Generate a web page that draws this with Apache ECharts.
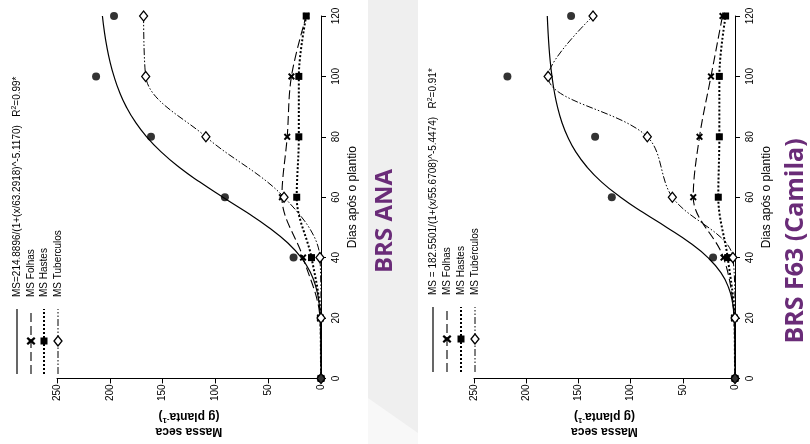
<!DOCTYPE html>
<html><head><meta charset="utf-8">
<script src="https://cdn.jsdelivr.net/npm/echarts@6/dist/echarts.min.js"></script>
<style>html,body{margin:0;padding:0;background:#fff}#c{width:810px;height:444px}</style>
</head><body><div id="c"></div>
<script>
// ---- data ----
const days = [0, 20, 40, 60, 80, 100, 120];
const msDays = [0, 40, 60, 80, 100, 120];
const fitDays = [0,5,10,15,20,25,30,35,40,45,50,55,60,65,70,75,80,85,90,95,100,105,110,115,120];
const massaTicks = [0, 50, 100, 150, 200, 250];
const diasTicks = [0, 20, 40, 60, 80, 100, 120];

// BRS ANA
const anaFit = [0,0,0.02,0.14,0.59,1.84,4.61,9.87,18.7,31.9,49.5,70.4,92.9,114.7,134.6,151.4,165.1,176.0,184.5,191.0,196.0,199.9,202.9,205.2,207.0];
const anaMS = [0, 26, 91, 161, 213, 196];
const anaFolhas = [0, 1, 17, 37, 32, 28, 14];
const anaHastes = [0, 0.5, 9, 23, 21, 21, 14];
const anaTub = [0, 0, 1, 35, 109, 166, 168];
const anaLegend = ['MS=214.8896/(1+(x/63.2918)^-5.1170)   R{s|2}=0.99*', 'MS Folhas', 'MS Hastes', 'MS Tuberculos'];

// BRS F63 (Camila)
const camFit = [0,0,0.02,0.14,0.69,2.30,6.08,13.5,25.9,43.6,65.3,88.3,109.6,127.7,141.8,152.5,160.3,166.0,170.1,173.1,175.3,177.0,178.2,179.1,179.8];
const camMS = [0, 21, 118, 134, 218, 157];
const camFolhas = [0, 1, 11, 40, 34, 23, 12];
const camHastes = [0, 0.5, 7, 16, 15, 15, 9];
const camTub = [0, 0, 2, 60, 84, 179, 136];
const camLegend = ['MS = 182.5501/(1+(x/55.6708)^-5.4474)   R{s|2}=0.91*', 'MS Folhas', 'MS Hastes', 'MS Tubérculos'];

const titles = ['BRS ANA', 'BRS F63 (Camila)'];
const xName = 'Massa seca\n(g planta{s|-1})';
const yName = 'Dias após o plantio';

// ---- styles ----
const FONT = 'Liberation Sans, Arial, sans-serif';
const XPATH = 'path://M0,2L2,0L5,3L8,0L10,2L7,5L10,8L8,10L5,7L2,10L0,8L3,5Z';
const dashFol = [9, 4];
const dashHas = [2, 2];
const dashTub = [7, 2, 1.5, 2, 1.5, 2];
const SMOOTH = 0.35;

function pairs(vals, ds) { return ds.map((d, k) => [vals[k], d]); }

function panelSeries(i, fit, ms, fol, has, tub) {
  return [
    {type:'line', xAxisIndex:i, yAxisIndex:i, data:pairs(fit, fitDays), symbol:'none', smooth:true,
     lineStyle:{color:'#000', width:1.2}, z:2},
    {type:'line', xAxisIndex:i, yAxisIndex:i, data:pairs(fol, days), smooth:SMOOTH, symbol:XPATH, symbolSize:7,
     itemStyle:{color:'#000'}, lineStyle:{color:'#000', width:1.1, type:dashFol}, z:3},
    {type:'line', xAxisIndex:i, yAxisIndex:i, data:pairs(has, days), smooth:SMOOTH, symbol:'rect', symbolSize:7,
     itemStyle:{color:'#000'}, lineStyle:{color:'#000', width:2, type:dashHas}, z:3},
    {type:'line', xAxisIndex:i, yAxisIndex:i, data:pairs(tub, days), smooth:SMOOTH, symbol:'diamond', symbolSize:[8,10],
     itemStyle:{color:'#fff', borderColor:'#000', borderWidth:1.3}, lineStyle:{color:'#000', width:1, type:dashTub}, z:4},
    {type:'scatter', xAxisIndex:i, yAxisIndex:i, data:pairs(ms, msDays), symbol:'circle', symbolSize:8,
     itemStyle:{color:'#000'}, z:5}
  ];
}

function xAxisCfg(i) {
  return {type:'value', gridIndex:i, min:0, max:250, interval:50, inverse:true, position:'bottom',
    axisLine:{show:true, onZero:false, lineStyle:{color:'#000', width:1}},
    axisTick:{show:true, inside:false, length:5, lineStyle:{color:'#000'}},
    axisLabel:{rotate:90, margin:6, fontSize:10, color:'#000', fontFamily:FONT},
    splitLine:{show:false},
    name:xName, nameLocation:'middle', nameRotate:180, nameGap:27,
    nameTextStyle:{fontSize:12, color:'#000', fontFamily:FONT, fontWeight:'bold', lineHeight:15,
      rich:{s:{fontSize:8, verticalAlign:'top', fontFamily:FONT, fontWeight:'bold', color:'#000', padding:[0,0,6,0]}}}
  };
}
function yAxisCfg(i) {
  return {type:'value', gridIndex:i, min:0, max:120, interval:20, position:'right',
    axisLine:{show:true, onZero:false, lineStyle:{color:'#000', width:1}},
    axisTick:{show:true, inside:false, length:5, lineStyle:{color:'#000'}},
    axisLabel:{rotate:90, margin:10, fontSize:10, color:'#000', fontFamily:FONT},
    splitLine:{show:false},
    name:yName, nameLocation:'middle', nameGap:26,
    nameTextStyle:{fontSize:12, color:'#000', fontFamily:FONT}
  };
}

function legendGraphics(labels, xs, y0) {
  const out = [];
  const lineStyles = [
    {lineWidth:1.2, lineDash:null},
    {lineWidth:1.1, lineDash:dashFol},
    {lineWidth:2, lineDash:dashHas},
    {lineWidth:1, lineDash:dashTub}
  ];
  labels.forEach((lab, k) => {
    const ch = [
      {type:'line', shape:{x1:0, y1:0, x2:65, y2:0},
       style:{stroke:'#000', lineWidth:lineStyles[k].lineWidth, lineDash:lineStyles[k].lineDash}},
      {type:'text', x:77, y:0, style:{text:lab, fill:'#000', font:'10px ' + FONT, textAlign:'left', textVerticalAlign:'middle',
        rich:{s:{fontSize:7, fontFamily:FONT, fill:'#000', padding:[0,0,5,0]}}}}
    ];
    if (k === 1) ch.push({type:'polygon', shape:{points:[[29,-3],[30.5,-4.5],[33,-2],[35.5,-4.5],[37,-3],[34.5,-0],[37,3],[35.5,4.5],[33,2],[30.5,4.5],[29,3],[31.5,0]]}, style:{fill:'#000'}});
    if (k === 2) ch.push({type:'rect', shape:{x:29.5, y:-3.5, width:7, height:7}, style:{fill:'#000'}});
    if (k === 3) ch.push({type:'polygon', shape:{points:[[28,0],[33,-4],[38,0],[33,4]]}, style:{fill:'#fff', stroke:'#000', lineWidth:1.3}});
    out.push({type:'group', x:xs[k], y:y0, rotation:Math.PI/2, children:ch, z:10});
  });
  return out;
}

const graphics = [
  {type:'rect', shape:{x:368, y:0, width:50, height:444}, style:{fill:'#efefef'}, z:-10},
  {type:'polygon', shape:{points:[[368,398],[418,433],[418,444],[368,444]]}, style:{fill:'#f8f8f8'}, z:-9},
  {type:'text', x:385, y:221, rotation:Math.PI/2,
   style:{text:titles[0], fill:'#6a2c78', font:'bold 24px "Open Sans", sans-serif', textAlign:'center', textVerticalAlign:'middle'}},
  {type:'text', x:796, y:241, rotation:Math.PI/2,
   style:{text:titles[1], fill:'#6a2c78', font:'bold 25px "Open Sans", sans-serif', textAlign:'center', textVerticalAlign:'middle'}}
].concat(legendGraphics(anaLegend, [17, 31, 44, 58], 374))
 .concat(legendGraphics(camLegend, [433, 447, 461, 475], 372));

const option = {
  animation:false,
  backgroundColor:'#fff',
  grid:[
    {left:57, right:489, top:16, bottom:62},
    {left:474, right:75, top:16, bottom:64}
  ],
  xAxis:[xAxisCfg(0), xAxisCfg(1)],
  yAxis:[yAxisCfg(0), yAxisCfg(1)],
  series:panelSeries(0, anaFit, anaMS, anaFolhas, anaHastes, anaTub)
    .concat(panelSeries(1, camFit, camMS, camFolhas, camHastes, camTub)),
  graphic:graphics
};
const chart = echarts.init(document.getElementById('c'), null, {renderer:'canvas'});
chart.setOption(option);
</script></body></html>
